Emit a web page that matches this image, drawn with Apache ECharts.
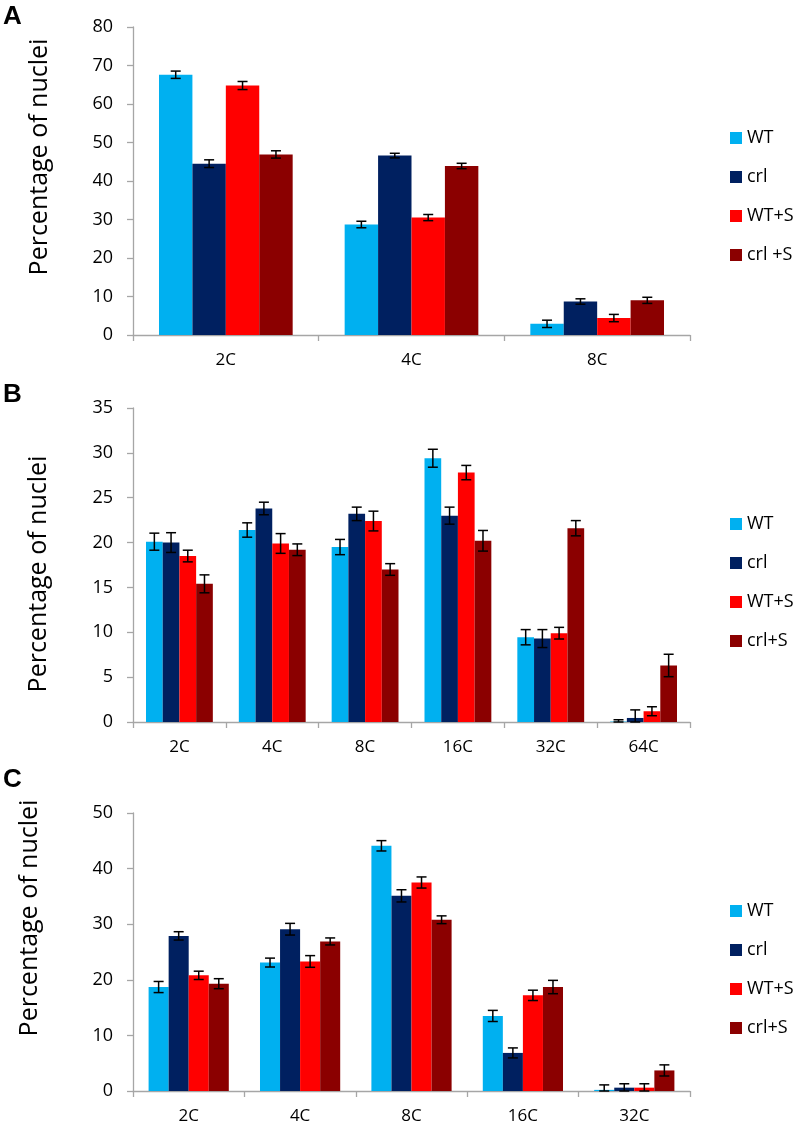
<!DOCTYPE html>
<html>
<head>
<meta charset="utf-8">
<script src="https://cdn.jsdelivr.net/npm/echarts@6/dist/echarts.min.js"></script>
<style>
html,body{margin:0;padding:0;background:#fff;}
#chart{width:793px;height:1128px;}
</style>
</head>
<body>
<div id="chart"></div>
<script>
// ---------- DATA ----------
const seriesNames = ['WT', 'crl', 'WT+S', 'crl+S'];
const seriesNamesA = ['WT', 'crl', 'WT+S', 'crl +S'];
const colors = ['#00B0F0', '#002060', '#FF0000', '#8B0000'];

// Panel A
const catsA = ['2C', '4C', '8C'];
const A_WT = [67.6, 28.7, 2.9];
const A_WT_err = [0.95, 0.85, 0.95];
const A_crl = [44.5, 46.6, 8.7];
const A_crl_err = [1.0, 0.6, 0.7];
const A_WTS = [64.8, 30.5, 4.4];
const A_WTS_err = [1.05, 0.8, 0.95];
const A_crlS = [46.9, 43.9, 9.0];
const A_crlS_err = [0.95, 0.7, 0.8];
const ticksA = {min: 0, max: 80, interval: 10};

// Panel B
const catsB = ['2C', '4C', '8C', '16C', '32C', '64C'];
const B_WT = [20.1, 21.4, 19.5, 29.4, 9.45, 0.05];
const B_WT_err = [0.95, 0.8, 0.85, 1.0, 0.85, 0.2];
const B_crl = [20.0, 23.8, 23.2, 23.0, 9.3, 0.45];
const B_crl_err = [1.1, 0.7, 0.75, 0.95, 1.0, 0.9];
const B_WTS = [18.5, 19.9, 22.4, 27.8, 9.9, 1.2];
const B_WTS_err = [0.65, 1.1, 1.1, 0.8, 0.65, 0.5];
const B_crlS = [15.4, 19.2, 17.0, 20.2, 21.6, 6.3];
const B_crlS_err = [1.0, 0.65, 0.65, 1.15, 0.85, 1.25];
const ticksB = {min: 0, max: 35, interval: 5};

// Panel C
const catsC = ['2C', '4C', '8C', '16C', '32C'];
const C_WT = [18.7, 23.1, 44.1, 13.5, 0.2];
const C_WT_err = [1.0, 0.8, 0.93, 1.0, 0.9];
const C_crl = [27.9, 29.1, 35.1, 6.85, 0.6];
const C_crl_err = [0.75, 1.05, 1.1, 0.9, 0.7];
const C_WTS = [20.8, 23.3, 37.5, 17.2, 0.6];
const C_WTS_err = [0.75, 1.05, 1.0, 0.93, 0.7];
const C_crlS = [19.3, 26.9, 30.8, 18.7, 3.7];
const C_crlS_err = [0.9, 0.63, 0.7, 1.2, 1.0];
const ticksC = {min: 0, max: 50, interval: 10};

const yTitle = 'Percentage of nuclei';
const panelLabels = ['A', 'B', 'C'];

// ---------- BUILD ----------
const FONT = 'Open Sans';
const GAP = 0.28;
const axisGray = '#A6A6A6';

const panels = [
  {cats: catsA, names: seriesNamesA, vals: [A_WT, A_crl, A_WTS, A_crlS], errs: [A_WT_err, A_crl_err, A_WTS_err, A_crlS_err], ticks: ticksA,
   grid: {left: 133, top: 27, width: 557, height: 308}, legendTop: 123, title: {x: 40, y: 157}, label: {x: 3, y: 17}},
  {cats: catsB, names: seriesNames, vals: [B_WT, B_crl, B_WTS, B_crlS], errs: [B_WT_err, B_crl_err, B_WTS_err, B_crlS_err], ticks: ticksB,
   grid: {left: 133, top: 408, width: 557, height: 314}, legendTop: 509, title: {x: 39, y: 574}, label: {x: 3, y: 395}},
  {cats: catsC, names: seriesNames, vals: [C_WT, C_crl, C_WTS, C_crlS], errs: [C_WT_err, C_crl_err, C_WTS_err, C_crlS_err], ticks: ticksC,
   grid: {left: 133, top: 813, width: 557, height: 278}, legendTop: 896, title: {x: 30, y: 918}, label: {x: 3, y: 780}}
];

function errRender(k) {
  return function (params, api) {
    const xi = api.value(0), v = api.value(1), e = api.value(2);
    const c = api.coord([xi, v]);
    const band = api.size([1, 0])[0];
    const bw = band * (1 - GAP) / 4;
    const cx = c[0] + (k - 1.5) * bw;
    const yTop = api.coord([xi, v + e])[1];
    const yBot = api.coord([xi, Math.max(v - e, 0)])[1];
    const cap = 5;
    const st = {stroke: '#000', lineWidth: 1.5};
    return {
      type: 'group',
      children: [
        {type: 'line', shape: {x1: cx, y1: yTop, x2: cx, y2: yBot}, style: st},
        {type: 'line', shape: {x1: cx - cap, y1: yTop, x2: cx + cap, y2: yTop}, style: st},
        {type: 'line', shape: {x1: cx - cap, y1: yBot, x2: cx + cap, y2: yBot}, style: st}
      ]
    };
  };
}

const grid = [], xAxis = [], yAxis = [], series = [], legend = [], graphic = [];
panels.forEach((p, pi) => {
  grid.push(Object.assign({containLabel: false}, p.grid));
  xAxis.push({
    type: 'category', gridIndex: pi, data: p.cats,
    axisLine: {lineStyle: {color: axisGray, width: 1.3}},
    axisTick: {show: true, length: 6, lineStyle: {color: axisGray, width: 1.3}},
    axisLabel: {color: '#000', fontFamily: FONT, fontSize: 17, margin: 17},
    splitLine: {show: false}
  });
  yAxis.push({
    type: 'value', gridIndex: pi, min: p.ticks.min, max: p.ticks.max, interval: p.ticks.interval,
    axisLine: {show: true, lineStyle: {color: axisGray, width: 1.3}},
    axisTick: {show: true, length: 6, lineStyle: {color: axisGray, width: 1.3}},
    axisLabel: {color: '#000', fontFamily: FONT, fontSize: 18, margin: 20},
    splitLine: {show: false}
  });
  p.vals.forEach((vals, k) => {
    series.push({
      type: 'bar', name: p.names[k], xAxisIndex: pi, yAxisIndex: pi,
      data: vals, barGap: '0%', barCategoryGap: (GAP * 100) + '%',
      itemStyle: {color: colors[k]}, z: 2
    });
  });
  p.vals.forEach((vals, k) => {
    series.push({
      type: 'custom', name: p.names[k] + ' err', xAxisIndex: pi, yAxisIndex: pi,
      data: vals.map((v, i) => [i, v, p.errs[k][i]]),
      renderItem: errRender(k), z: 5, silent: true
    });
  });
  legend.push({
    orient: 'vertical', left: 725, top: p.legendTop,
    data: p.names, icon: 'rect', itemWidth: 12, itemHeight: 12, itemGap: 19,
    textStyle: {color: '#000', fontFamily: FONT, fontSize: 18, lineHeight: 20}
  });
  graphic.push({
    type: 'text', x: p.title.x, y: p.title.y, rotation: Math.PI / 2,
    style: {text: yTitle, fill: '#000', font: '25px "Open Sans"', textAlign: 'center', textVerticalAlign: 'middle'}
  });
  graphic.push({
    type: 'text', x: p.label.x, y: p.label.y,
    style: {text: panelLabels[pi], fill: '#000', font: 'bold 26px "Liberation Sans"', textAlign: 'left', textVerticalAlign: 'middle'}
  });
});

const chart = echarts.init(document.getElementById('chart'), null, {renderer: 'canvas'});
chart.setOption({
  animation: false,
  backgroundColor: '#fff',
  grid, xAxis, yAxis, series, legend, graphic
});
</script>
</body>
</html>
